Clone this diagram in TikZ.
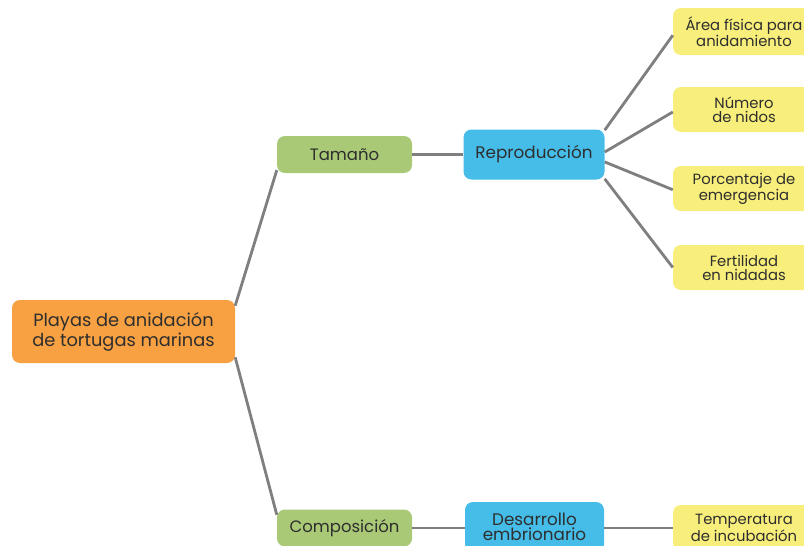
\documentclass[tikz,border=0pt]{standalone}
\usepackage{fontspec}
\setmainfont{Poppins}
\definecolor{orangebox}{HTML}{F7A142}
\definecolor{greenbox}{HTML}{A9C977}
\definecolor{bluebox}{HTML}{45BDE8}
\definecolor{yellowbox}{HTML}{F8EE7B}
\definecolor{linkgray}{HTML}{7F7F7F}
\definecolor{txt}{HTML}{2E2E2E}
\begin{document}
\begin{tikzpicture}[x=1pt,y=-1pt,
  box/.style={rounded corners=8pt, inner sep=0pt, align=center, text=txt},
  rootbox/.style={box, fill=orangebox, minimum width=223pt, minimum height=63pt,
     font=\fontsize{17.8}{20}\selectfont},
  lvlone/.style={box, fill=greenbox, minimum width=135pt, minimum height=37pt,
     font=\fontsize{16.5}{17}\selectfont},
  lvltwo/.style={box, fill=bluebox, minimum width=141pt, minimum height=50pt,
     font=\fontsize{16.8}{15.5}\selectfont},
  leafbox/.style={box, fill=yellowbox, minimum width=142pt, minimum height=45pt,
     font=\fontsize{14.8}{14}\selectfont},
  link/.style={draw=linkgray, line width=2.8pt}]
\useasboundingbox (0,0) rectangle (804,546);
\fill[white] (0,0) rectangle (804,546);
\node[rootbox] (root) at (123.5,331.5) {Playas de anidación\\de tortugas marinas};
\node[lvlone] (tam) at (344.5,154.5) {Tamaño};
\node[lvltwo] (rep) at (534,154.5) {Reproducción};
\node[leafbox, minimum height=47pt] (a1) at (744,31.5) {Área física para\\anidamiento};
\node[leafbox] (a2) at (744,109.5) {Número\\de nidos};
\node[leafbox] (a3) at (744,188.5) {Porcentaje de\\emergencia};
\node[leafbox] (a4) at (744,267.5) {Fertilidad\\en nidadas};
\node[lvlone] (com) at (344.5,528) {Composición};
\node[lvltwo, minimum width=139pt] (des) at (534.5,527) {Desarrollo\\embrionario};
\node[leafbox, minimum height=46pt] (tem) at (744,528) {Temperatura\\de incubación};
\draw[link] (root.13) -- (tam.193);
\draw[link] (root.-13) -- (com.169);
\draw[link] (tam.east) -- (rep.west);
\draw[link] (rep.19) -- (a1.183);
\draw[link] (rep.2) -- (a2.182);
\draw[link] (rep.-6) -- (a3.181);
\draw[link] (rep.-19) -- (a4.180);
\draw[link] (com.east) -- (com.east -| des.west);
\draw[link] (des.east |- tem.west) -- (tem.west);
\end{tikzpicture}
\end{document}
